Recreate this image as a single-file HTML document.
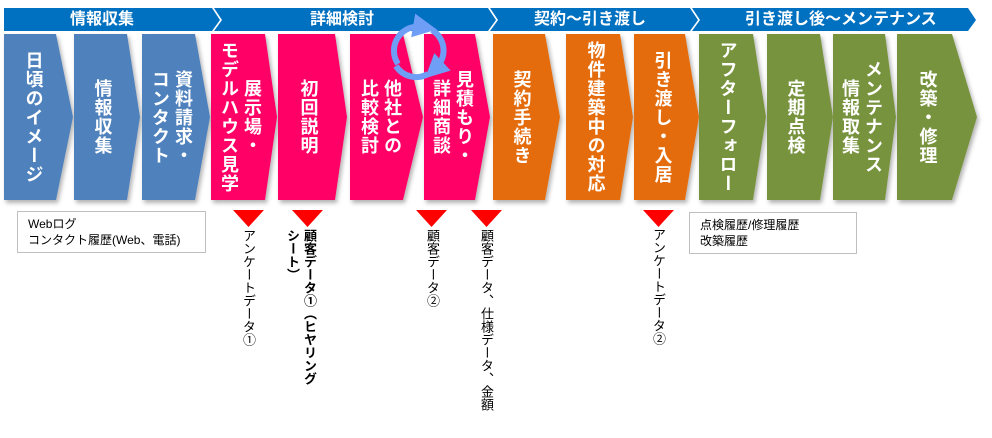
<!DOCTYPE html>
<html><head><meta charset="utf-8"><style>
body{margin:0;width:992px;height:438px;background:#fff;position:relative;overflow:hidden;font-family:"Liberation Sans","Noto Sans CJK JP",sans-serif}
.t{position:absolute;top:34px;height:166px;display:flex;align-items:center;justify-content:center;writing-mode:vertical-rl;color:#fff;font-weight:bold;font-size:18px;line-height:23px;text-align:center;letter-spacing:1px}
.v{position:absolute;writing-mode:vertical-rl;font-size:13px;color:#000;line-height:15px}
.box{position:absolute;border:1px solid #bfbfbf;font-size:12px;line-height:16px;padding:4px 0 0 10px;box-sizing:border-box}
</style></head><body>
<svg width="992" height="438" style="position:absolute;left:0;top:0">
<defs><filter id="s" x="-10%" y="-10%" width="130%" height="130%"><feDropShadow dx="2" dy="3" stdDeviation="2" flood-color="#000" flood-opacity="0.3"/></filter>
<marker id="ah" markerWidth="4" markerHeight="4" refX="1.5" refY="2" orient="auto"><path d="M0,0 L4,2 L0,4 z" fill="#6f9ef7"/></marker></defs>
<g fill="#0070c0">
<polygon points="4,8 212,8 220,20 212,31 4,31"/>
<polygon points="214,8 488,8 496,20 488,31 214,31 222,20"/>
<polygon points="490,8 690,8 698,20 690,31 490,31 498,20"/>
<polygon points="692,8 968,8 976,20 968,31 692,31 700,20"/>
</g>
<g filter="url(#s)">
<polygon fill="#4f81bd" points="4,34 56,34 73,117 56,200 4,200"/>
<polygon fill="#4f81bd" points="74,34 127,34 140,117 127,200 74,200"/>
<polygon fill="#4f81bd" points="142,34 195,34 210,117 195,200 142,200"/>
<polygon fill="#ff0066" points="211,34 265,34 277,117 265,200 211,200"/>
<polygon fill="#ff0066" points="278,34 335,34 347,117 335,200 278,200"/>
<polygon fill="#ff0066" points="350,34 403,34 423,117 403,200 350,200"/>
<polygon fill="#ff0066" points="424,34 475,34 490,117 475,200 424,200"/>
<polygon fill="#e46c0a" points="493,34 545,34 560,117 545,200 493,200"/>
<polygon fill="#e46c0a" points="566,34 620,34 633,117 620,200 566,200"/>
<polygon fill="#e46c0a" points="634,34 685,34 699,117 685,200 634,200"/>
<polygon fill="#77933c" points="699,34 753,34 766,117 753,200 699,200"/>
<polygon fill="#77933c" points="767,34 820,34 833,117 820,200 767,200"/>
<polygon fill="#77933c" points="833,34 885,34 896,117 885,200 833,200"/>
<polygon fill="#77933c" points="897,34 952,34 977,117 952,200 897,200"/>
</g>
<g fill="none" stroke="#6f9ef7" stroke-width="6">
<path d="M398,64 A24,24 0 0 1 422,27" marker-end="url(#ah)"/>
<path d="M432,30 A24,24 0 0 1 436,68" marker-end="url(#ah)"/>
<path d="M428,74 A24,24 0 0 1 396,66" />
</g>
<g fill="#ff0000">
<polygon points="233,210 264,210 248.5,227"/>
<polygon points="292,210 323,210 307.5,227"/>
<polygon points="416,210 447,210 431.5,227"/>
<polygon points="471,210 502,210 486.5,227"/>
<polygon points="643,210 674,210 658.5,227"/>
</g>
</svg>
<div class="t" style="left:4px;width:58px">日頃のイメージ</div>
<div class="t" style="left:74px;width:56px">情報収集</div>
<div class="t" style="left:142px;width:58px">資料請求・<br>コンタクト</div>
<div class="t" style="left:211px;width:58px">展示場・<br>モデルハウス見学</div>
<div class="t" style="left:278px;width:60px">初回説明</div>
<div class="t" style="left:350px;width:60px">他社との<br>比較検討</div>
<div class="t" style="left:424px;width:56px">見積もり・<br>詳細商談</div>
<div class="t" style="left:493px;width:56px">契約手続き</div>
<div class="t" style="left:566px;width:58px">物件建築中の対応</div>
<div class="t" style="left:634px;width:56px">引き渡し・入居</div>
<div class="t" style="left:699px;width:56px">アフターフォロー</div>
<div class="t" style="left:767px;width:56px">定期点検</div>
<div class="t" style="left:833px;width:56px">メンテナンス<br>情報取集</div>
<div class="t" style="left:897px;width:60px">改築・修理</div>
<div style="position:absolute;left:0;top:8px;width:992px;height:23px;color:#fff;font-weight:bold;font-size:16px;line-height:23px">
<span style="position:absolute;left:70px">情報収集</span>
<span style="position:absolute;left:310px">詳細検討</span>
<span style="position:absolute;left:534px">契約～引き渡し</span>
<span style="position:absolute;left:745px">引き渡し後～メンテナンス</span>
</div>
<div class="box" style="left:17px;top:211px;width:189px;height:42px">Webログ<br>コンタクト履歴(Web、電話)</div>
<div class="box" style="left:689px;top:212px;width:168px;height:42px">点検履歴/修理履歴<br>改築履歴</div>
<div class="v" style="left:241px;top:229px">アンケートデータ①</div>
<div class="v" style="left:284px;top:229px;font-weight:bold;line-height:17px">顧客データ①（ヒヤリング<br>シート）</div>
<div class="v" style="left:425px;top:229px">顧客データ②</div>
<div class="v" style="left:479px;top:229px">顧客データ、仕様データ、金額</div>
<div class="v" style="left:651px;top:228px">アンケートデータ②</div>
</body></html>
